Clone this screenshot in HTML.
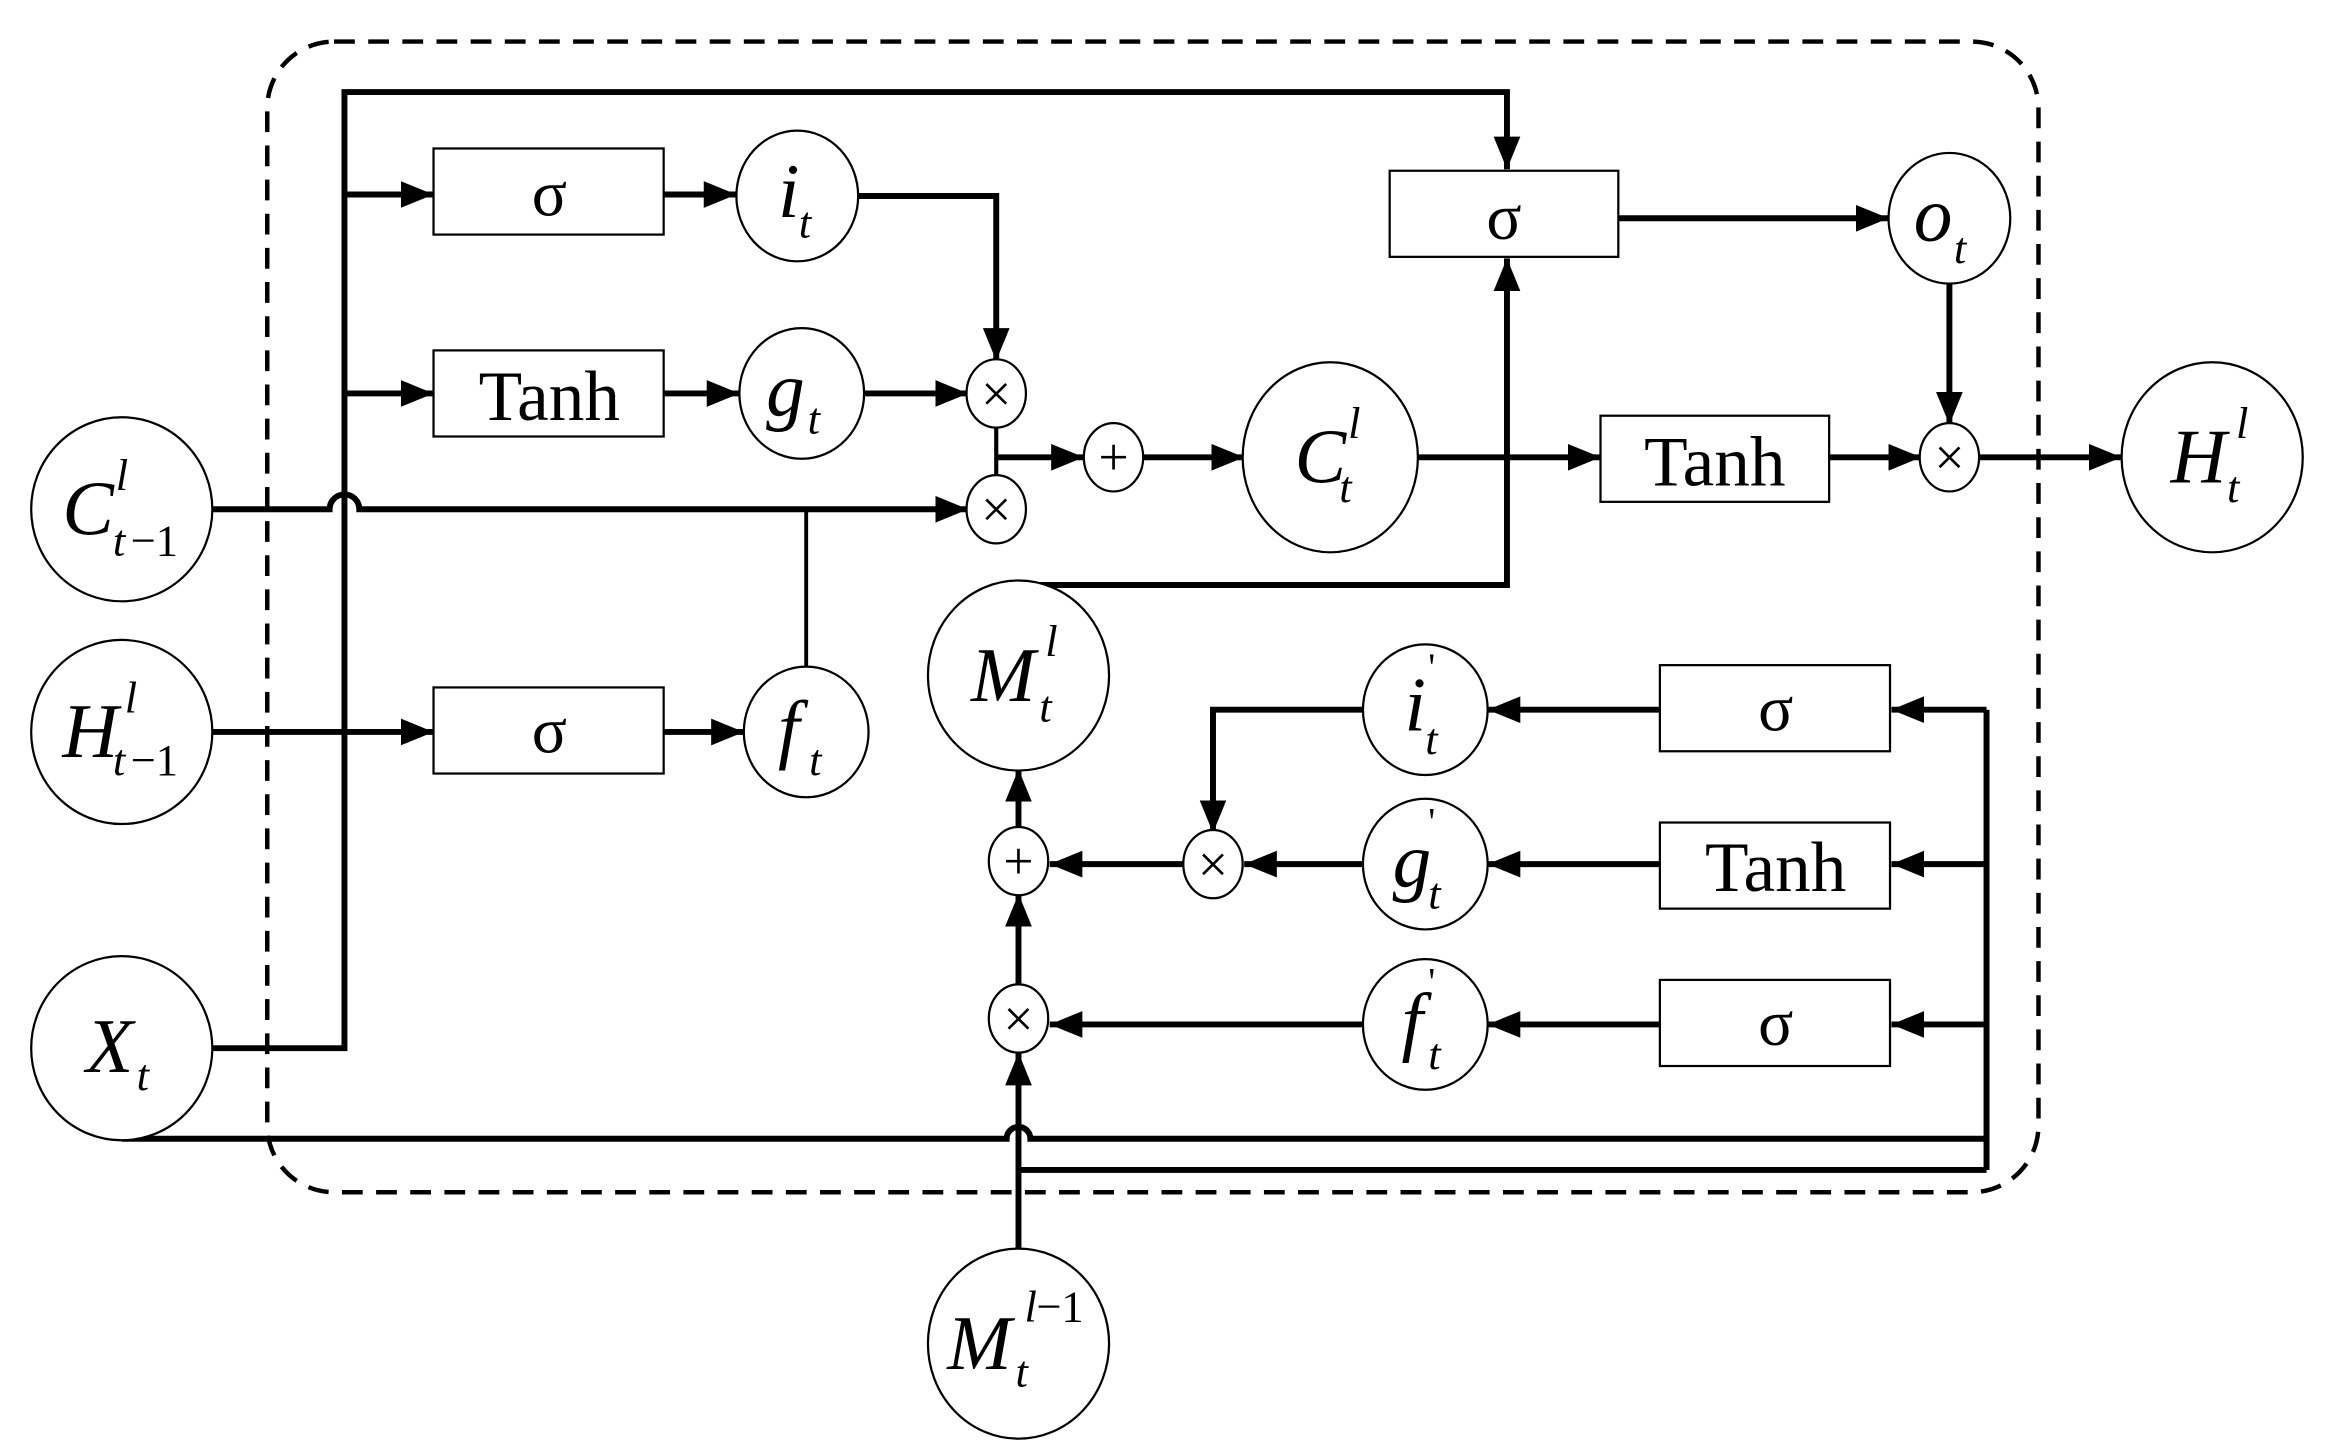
<!DOCTYPE html>
<html><head><meta charset="utf-8"><style>html,body{margin:0;padding:0;background:#fff}svg{display:block}</style></head><body>
<svg width="2328" height="1447" viewBox="0 0 1568 974.6" xmlns="http://www.w3.org/2000/svg" font-family="Liberation Serif, serif">
<defs>
<marker id="a" markerUnits="userSpaceOnUse" markerWidth="24" markerHeight="20" refX="22" refY="9" orient="auto"><path d="M0,0 L22,9 L0,18 Z" fill="#000"/></marker>
</defs>
<rect x="180" y="28" width="1193" height="775" rx="45" fill="none" stroke="#000" stroke-width="3" stroke-dasharray="14,9"/>
<g fill="none" stroke="#000" stroke-width="4">
<path d="M143,706 H232 V62 H1015 V114" marker-end="url(#a)"/>
<path d="M232,131 H292" marker-end="url(#a)"/>
<path d="M232,265 H292" marker-end="url(#a)"/>
<path d="M447,131 H496" marker-end="url(#a)"/>
<path d="M447,265 H498" marker-end="url(#a)"/>
<path d="M447,493 H501" marker-end="url(#a)"/>
<path d="M143,493 H292" marker-end="url(#a)"/>
<path d="M143,343 H222 A10,10 0 0 1 242,343 H652" marker-end="url(#a)"/>
<path d="M543,343 V452" stroke-width="2.6"/>
<path d="M578,132 H671 V243" marker-end="url(#a)"/>
<path d="M582,265 H652" marker-end="url(#a)"/>
<path d="M671,287 V321" stroke-width="2.8"/>
<path d="M671,308 H730" marker-end="url(#a)"/>
<path d="M770,308 H838" marker-end="url(#a)"/>
<path d="M954,308 H1078" marker-end="url(#a)"/>
<path d="M1232,308 H1294" marker-end="url(#a)"/>
<path d="M1332,308 H1429" marker-end="url(#a)"/>
<path d="M1090,147 H1272" marker-end="url(#a)"/>
<path d="M1313,190 V286" marker-end="url(#a)"/>
<path d="M686,394 H1015 V174" marker-end="url(#a)"/>
<path d="M1338,478 V788"/>
<path d="M1338,478 H1274" marker-end="url(#a)"/>
<path d="M1338,582 H1274" marker-end="url(#a)"/>
<path d="M1338,690 H1274" marker-end="url(#a)"/>
<path d="M1118,478 H1002" marker-end="url(#a)"/>
<path d="M1118,582 H1002" marker-end="url(#a)"/>
<path d="M1118,690 H1002" marker-end="url(#a)"/>
<path d="M918,478 H817 V561" marker-end="url(#a)"/>
<path d="M918,582 H838" marker-end="url(#a)"/>
<path d="M797,582 H707" marker-end="url(#a)"/>
<path d="M918,690 H707" marker-end="url(#a)"/>
<path d="M686,602 V518" marker-end="url(#a)"/>
<path d="M686,664 V602" marker-end="url(#a)"/>
<path d="M686,843 V709" marker-end="url(#a)"/>
<path d="M82,767 H678 A8,8 0 0 1 694,767 H1338"/>
<path d="M686,788 H1338"/>
</g>
<g fill="#fff" stroke="#000" stroke-width="1.5">
<ellipse cx="82" cy="343" rx="61" ry="62"/>
<ellipse cx="82" cy="493" rx="61" ry="62"/>
<ellipse cx="82" cy="706" rx="61" ry="62"/>
<rect x="292" y="100" width="155" height="58"/>
<rect x="292" y="236" width="155" height="58"/>
<rect x="292" y="463" width="155" height="58"/>
<ellipse cx="537" cy="132" rx="41" ry="44"/>
<ellipse cx="540" cy="265" rx="42" ry="44"/>
<ellipse cx="543" cy="493" rx="42" ry="44"/>
<ellipse cx="671" cy="265" rx="20" ry="23"/>
<ellipse cx="671" cy="343" rx="20" ry="23"/>
<ellipse cx="750" cy="308" rx="20" ry="23"/>
<ellipse cx="896" cy="308" rx="59" ry="64"/>
<rect x="936" y="115" width="154" height="58"/>
<ellipse cx="1313" cy="147" rx="41" ry="44"/>
<rect x="1078" y="280" width="154" height="58"/>
<ellipse cx="1313" cy="308" rx="20" ry="23"/>
<ellipse cx="1490" cy="308" rx="61" ry="64"/>
<ellipse cx="686" cy="455" rx="61" ry="64"/>
<ellipse cx="960" cy="478" rx="42" ry="44"/>
<ellipse cx="960" cy="582" rx="42" ry="44"/>
<ellipse cx="960" cy="690" rx="42" ry="44"/>
<rect x="1118" y="448" width="155" height="58"/>
<rect x="1118" y="554" width="155" height="58"/>
<rect x="1118" y="660" width="155" height="58"/>
<ellipse cx="817" cy="582" rx="20" ry="23"/>
<ellipse cx="686" cy="580" rx="20" ry="23"/>
<ellipse cx="686" cy="686" rx="20" ry="23"/>
<ellipse cx="686" cy="905" rx="61" ry="64"/>
</g>
<g font-size="44" text-anchor="middle" fill="#000">
<text x="370" y="145">σ</text>
<text x="370" y="507">σ</text>
<text x="1013" y="161">σ</text>
<text x="1196" y="492">σ</text>
<text x="1196" y="704">σ</text>
<text x="370" y="283" font-size="48">Tanh</text>
<text x="1155" y="327" font-size="48">Tanh</text>
<text x="1196" y="600" font-size="48">Tanh</text>
</g>
<g font-size="36" text-anchor="middle" fill="#000">
<text x="671" y="277">×</text><text x="671" y="355">×</text><text x="750" y="320">+</text>
<text x="1313" y="320">×</text><text x="817" y="594">×</text><text x="686" y="592">+</text><text x="686" y="698">×</text>
</g>
<g font-style="italic" fill="#000" font-size="52">
<text x="42" y="360">C</text><text x="78" y="330" font-size="30">l</text><text x="76" y="374" font-size="30">t</text><text x="88" y="374" font-size="30" font-style="normal">−1</text>
<text x="42" y="510">H</text><text x="84" y="480" font-size="30">l</text><text x="76" y="522" font-size="30">t</text><text x="88" y="522" font-size="30" font-style="normal">−1</text>
<text x="58" y="722">X</text><text x="92" y="734" font-size="30">t</text>
<text x="524" y="146">i</text><text x="538" y="160" font-size="30">t</text>
<text x="516" y="280">g</text><text x="544" y="292" font-size="30">t</text>
<text x="524" y="508">f</text><text x="545" y="522" font-size="30">t</text>
<text x="872" y="325">C</text><text x="908" y="295" font-size="30">l</text><text x="902" y="338" font-size="30">t</text>
<text x="1289" y="162">o</text><text x="1316" y="177" font-size="30">t</text>
<text x="1462" y="325">H</text><text x="1506" y="295" font-size="30">l</text><text x="1500" y="338" font-size="30">t</text>
<text x="654" y="472">M</text><text x="704" y="442" font-size="30">l</text><text x="700" y="486" font-size="30">t</text>
<text x="946" y="492">i</text><text x="962" y="458" font-size="26" font-style="normal">'</text><text x="960" y="508" font-size="30">t</text>
<text x="938" y="597">g</text><text x="962" y="562" font-size="26" font-style="normal">'</text><text x="962" y="612" font-size="30">t</text>
<text x="944" y="705">f</text><text x="962" y="670" font-size="26" font-style="normal">'</text><text x="962" y="720" font-size="30">t</text>
<text x="638" y="922">M</text><text x="690" y="890" font-size="30">l</text><text x="698" y="890" font-size="30" font-style="normal">−1</text><text x="684" y="934" font-size="30">t</text>
</g>
</svg>
</body></html>
